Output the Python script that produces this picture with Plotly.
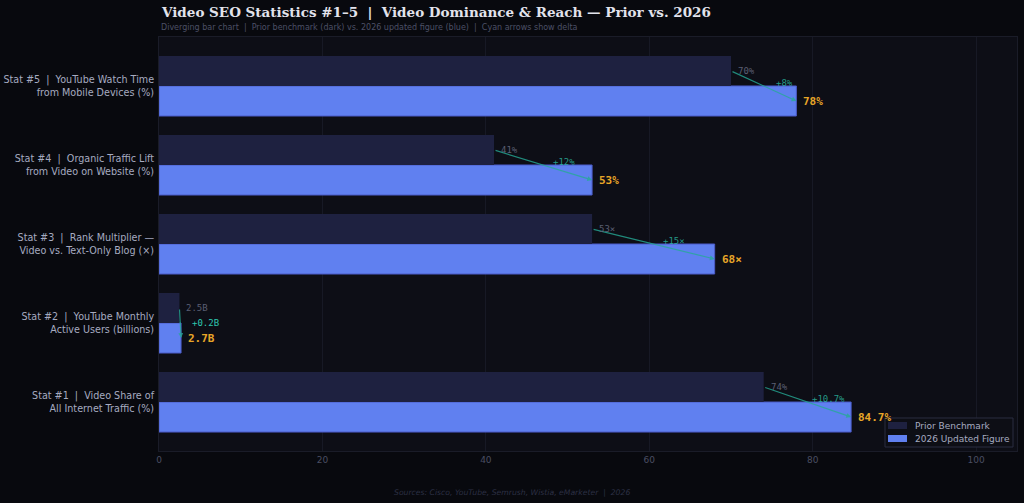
import plotly.graph_objects as go

categories = [
    "Stat #1  |  Video Share of<br>All Internet Traffic (%)",
    "Stat #2  |  YouTube Monthly<br>Active Users (billions)",
    "Stat #3  |  Rank Multiplier —<br>Video vs. Text-Only Blog (×)",
    "Stat #4  |  Organic Traffic Lift<br>from Video on Website (%)",
    "Stat #5  |  YouTube Watch Time<br>from Mobile Devices (%)",
]
prior_values = [74, 2.5, 53, 41, 70]
new_values = [84.7, 2.7, 68, 53, 78]
prior_labels = ["74%", "2.5B", "53×", "41%", "70%"]
new_labels = ["84.7%", "2.7B", "68×", "53%", "78%"]
delta_labels = ["+10.7%", "+0.2B", "+15×", "+12%", "+8%"]
series_names = ["Prior Benchmark", "2026 Updated Figure"]
x_ticks = [0, 20, 40, 60, 80, 100]

PAPER = "#08090e"
PLOT = "#0d0e16"
PRIOR_C = "#1e2140"
NEW_C = "#6080f0"
ARROW_C = "rgba(38,170,150,0.8)"

# plot-area pixel geometry (used to place the hand-drawn legend)
L, R, T, B = 159, 1017, 37, 451
W, H = R - L, B - T


def px(x):
    return (x - L) / W


def py(y):
    return (B - y) / H


ypos = list(range(len(categories)))
half = (1 - 0.24) / 4  # bar center offset

fig = go.Figure()
fig.add_trace(go.Bar(
    y=ypos, x=new_values, orientation="h", name=series_names[1],
    marker=dict(color=NEW_C, line=dict(color="#4b5bc8", width=1)),
    hoverinfo="x", showlegend=False,
))
fig.add_trace(go.Bar(
    y=ypos, x=prior_values, orientation="h", name=series_names[0],
    marker=dict(color=PRIOR_C, line=dict(color=PRIOR_C, width=0)),
    hoverinfo="x", showlegend=False,
))

annotations = []
for i, (p, n, pl, nl, dl) in enumerate(zip(prior_values, new_values, prior_labels, new_labels, delta_labels)):
    yp = i + half
    yn = i - half
    annotations.append(dict(
        x=n, y=yn, ax=p, ay=yp, xref="x", yref="y", axref="x", ayref="y",
        showarrow=True, arrowhead=2, arrowsize=0.8, arrowwidth=1.2,
        arrowcolor=ARROW_C, text="",
    ))
    annotations.append(dict(
        x=p, y=yp, xref="x", yref="y", text=pl, showarrow=False,
        xanchor="left", xshift=5, yshift=0,
        font=dict(family="DejaVu Sans Mono", size=9, color="#5a5e72"),
    ))
    annotations.append(dict(
        x=n, y=yn, xref="x", yref="y", text="<b>" + nl + "</b>", showarrow=False,
        xanchor="left", xshift=5,
        font=dict(family="DejaVu Sans Mono", size=11, color="#e8a628"),
    ))
    if i == 1:
        annotations.append(dict(
            x=n, y=i, xref="x", yref="y", text=dl, showarrow=False,
            xanchor="left", xshift=9,
            font=dict(family="DejaVu Sans Mono", size=9, color="#2dc8b0"),
        ))
    else:
        annotations.append(dict(
            x=(p + n) / 2, y=i, xref="x", yref="y", text=dl, showarrow=False,
            xanchor="center", xshift=21, yshift=3,
            font=dict(family="DejaVu Sans Mono", size=9, color="rgba(45,200,176,0.75)"),
        ))

annotations.append(dict(
    x=0, y=1.0, xref="paper", yref="paper", xanchor="left", yanchor="bottom",
    yshift=15, showarrow=False,
    text="<b>Video SEO Statistics #1–5  |  Video Dominance & Reach — Prior vs. 2026</b>",
    font=dict(family="DejaVu Serif", size=13.5, color="#e2e3ec"),
))
annotations.append(dict(
    x=0, y=1.0, xref="paper", yref="paper", xanchor="left", yanchor="bottom",
    yshift=3, showarrow=False,
    text="Diverging bar chart  |  Prior benchmark (dark) vs. 2026 updated figure (blue)  |  Cyan arrows show delta",
    font=dict(family="DejaVu Sans", size=8, color="#4c5066"),
))
annotations.append(dict(
    x=px(512), y=0, xref="paper", yref="paper",
    xanchor="center", yanchor="top",
    yshift=-35, showarrow=False,
    text="<i>Sources: Cisco, YouTube, Semrush, Wistia, eMarketer  |  2026</i>",
    font=dict(family="DejaVu Sans", size=7.7, color="#2c3044"),
))

# legend (drawn by hand to match the compact reference box)
shapes = [
    dict(type="rect", xref="paper", yref="paper",
         x0=px(885), x1=px(1013), y0=py(447), y1=py(418),
         fillcolor="rgba(13,14,22,0.92)", line=dict(color="#2a2d40", width=1), layer="above"),
]
legend_rows = [(series_names[0], PRIOR_C, 425.5), (series_names[1], NEW_C, 438.5)]
for name, col, cy in legend_rows:
    shapes.append(dict(type="rect", xref="paper", yref="paper",
                       x0=px(888), x1=px(907), y0=py(cy + 3.5), y1=py(cy - 3.5),
                       fillcolor=col, line=dict(width=0), layer="above"))
    annotations.append(dict(x=px(913), y=py(cy), xref="paper", yref="paper",
                            xanchor="left", yanchor="middle", showarrow=False,
                            text=name, font=dict(family="DejaVu Sans", size=9, color="#a6abc0")))

fig.update_layout(
    width=1024, height=503,
    margin=dict(l=L, r=1024 - R, t=T, b=503 - B, autoexpand=False),
    paper_bgcolor=PAPER, plot_bgcolor=PLOT,
    barmode="group", bargap=0.24, bargroupgap=0,
    showlegend=False,
    xaxis=dict(
        range=[0, 105], tickvals=x_ticks, showgrid=True, gridcolor="#171925",
        gridwidth=1, zeroline=False, showline=True, mirror=True, linecolor="#1a1c28",
        tickfont=dict(family="DejaVu Sans", size=9, color="#4a4e62"),
        ticks="", fixedrange=True, automargin=False,
    ),
    yaxis=dict(
        range=[-0.62, 4.62], tickvals=ypos, ticktext=categories, showgrid=False,
        zeroline=False, showline=True, mirror=True, linecolor="#1a1c28",
        tickfont=dict(family="DejaVu Sans", size=9.6, color="#a6abc0"),
        ticks="", ticklabelstandoff=2, automargin=False,
    ),
    shapes=shapes,
    annotations=annotations,
)

fig.write_html("out.html")
